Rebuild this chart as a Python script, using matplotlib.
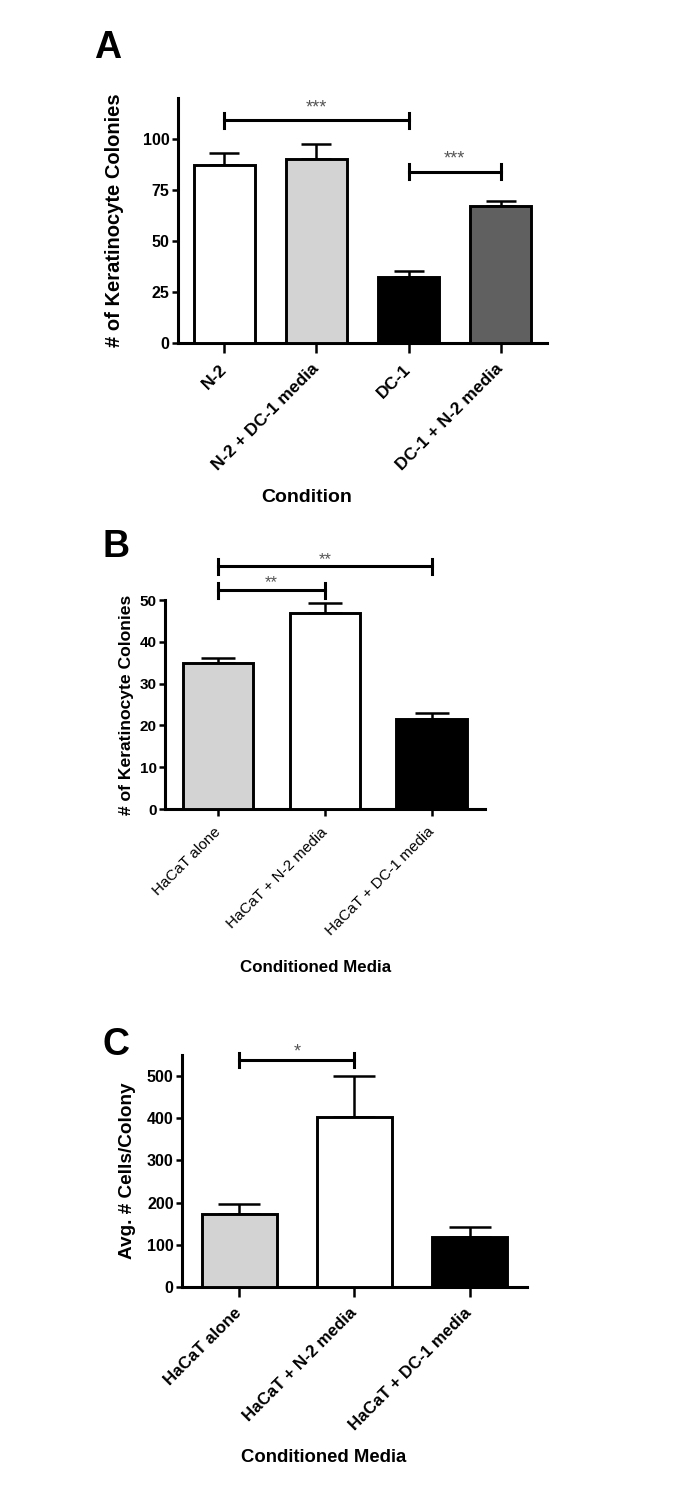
#!/usr/bin/env python

import matplotlib
matplotlib.use('Agg')
import matplotlib.pyplot as plt

plt.rcParams['font.family'] = ['Liberation Sans', 'DejaVu Sans']

# Panel A
a_labels = ['N-2', 'N-2 + DC-1 media', 'DC-1', 'DC-1 + N-2 media']
a_means = [87, 90, 32.5, 67]
a_err = [6, 7.5, 3, 2.5]
a_colors = ['white', '#d3d3d3', 'black', '#606060']
a_sig = [(0, 2, 109, '***'), (2, 3, 84, '***')]

# Panel B
b_labels = ['HaCaT alone', 'HaCaT + N-2 media', 'HaCaT + DC-1 media']
b_means = [35, 47, 21.5]
b_err = [1.2, 2.2, 1.5]
b_colors = ['#d3d3d3', 'white', 'black']
b_sig = [(0, 1, 52.4, '**'), (0, 2, 58.1, '**')]

# Panel C
c_labels = ['HaCaT alone', 'HaCaT + N-2 media', 'HaCaT + DC-1 media']
c_means = [174, 402, 119]
c_err = [23, 98, 24]
c_colors = ['#d3d3d3', 'white', 'black']
c_sig = [(0, 1, 538, '*')]


def bar_panel(ax, labels, means, err, colors, ylim, yticks, capsize,
              xtl_size, xtl_weight, ytl_size, xtick_len):
    x = list(range(len(means)))
    ax.bar(x, means, width=0.66, color=colors, edgecolor='black',
           linewidth=2.1, zorder=3)
    ax.errorbar(x, means, yerr=[[0] * len(err), err], fmt='none',
                ecolor='black', elinewidth=1.8, capsize=capsize,
                capthick=1.8, zorder=2)
    ax.set_xlim(-0.5, len(means) - 0.5)
    ax.set_ylim(*ylim)
    ax.set_yticks(yticks)
    ax.set_xticks(x)
    ax.set_xticklabels(labels, rotation=45, ha='right', va='center',
                       rotation_mode='anchor', fontsize=xtl_size,
                       fontweight=xtl_weight)
    for t in ax.get_yticklabels():
        t.set_fontsize(ytl_size)
        t.set_fontweight('bold')
    for side in ['top', 'right']:
        ax.spines[side].set_visible(False)
    for side in ['left', 'bottom']:
        ax.spines[side].set_linewidth(2.2)
    ax.tick_params(axis='y', direction='out', length=4, width=1.8, pad=2)
    ax.tick_params(axis='x', direction='out', length=xtick_len, width=1.8,
                   pad=10)


def sig_bars(ax, sigs, cap, star_off, star_size):
    for i, j, y, s in sigs:
        ax.plot([i, j], [y, y], color='black', lw=2.2, clip_on=False)
        ax.plot([i, i], [y - cap, y + cap], color='black', lw=2.2,
                clip_on=False)
        ax.plot([j, j], [y - cap, y + cap], color='black', lw=2.2,
                clip_on=False)
        ax.text((i + j) / 2, y + star_off, s, ha='center', va='baseline',
                fontsize=star_size, color='#555555', clip_on=False)


fig = plt.figure(figsize=(6.88, 15.10), dpi=100)

axA = fig.add_axes([0.2587, 0.7728, 0.5363, 0.1623])
bar_panel(axA, a_labels, a_means, a_err, a_colors, (0, 120),
          [0, 25, 50, 75, 100], 11, 12.5, 'bold', 11.5, 7)
sig_bars(axA, a_sig, 3.7, 4, 13)
axA.set_ylabel('# of Keratinocyte Colonies', fontsize=14.5, fontweight='bold')
axA.yaxis.set_label_coords(-0.145, 0.5)
axA.set_xlabel('Condition', fontsize=14, fontweight='bold')
axA.xaxis.set_label_coords(0.35, -0.595)

axB = fig.add_axes([0.2398, 0.4642, 0.465, 0.1384])
bar_panel(axB, b_labels, b_means, b_err, b_colors, (0, 50),
          [0, 10, 20, 30, 40, 50], 12.5, 11, 'normal', 11, 5)
sig_bars(axB, b_sig, 1.8, 0.6, 12)
axB.set_ylabel('# of Keratinocyte Colonies', fontsize=12.6, fontweight='bold')
axB.yaxis.set_label_coords(-0.097, 0.5)
axB.set_xlabel('Conditioned Media', fontsize=12.2, fontweight='bold')
axB.xaxis.set_label_coords(0.47, -0.72)

axC = fig.add_axes([0.2645, 0.1477, 0.5015, 0.1536])
bar_panel(axC, c_labels, c_means, c_err, c_colors, (0, 550),
          [0, 100, 200, 300, 400, 500], 15, 12.2, 'bold', 11.5, 7)
sig_bars(axC, c_sig, 17, 8, 13)
axC.set_ylabel('Avg. # Cells/Colony', fontsize=13.7, fontweight='bold')
axC.yaxis.set_label_coords(-0.133, 0.5)
axC.set_xlabel('Conditioned Media', fontsize=13.3, fontweight='bold')
axC.xaxis.set_label_coords(0.41, -0.70)

fig.text(94 / 688, 1 - 58 / 1510, 'A', fontsize=27, fontweight='bold',
         va='baseline')
fig.text(103 / 688, 1 - 557 / 1510, 'B', fontsize=27, fontweight='bold',
         va='baseline')
fig.text(102 / 688, 1 - 1055 / 1510, 'C', fontsize=27, fontweight='bold',
         va='baseline')

fig.savefig('out.png', dpi=100)
